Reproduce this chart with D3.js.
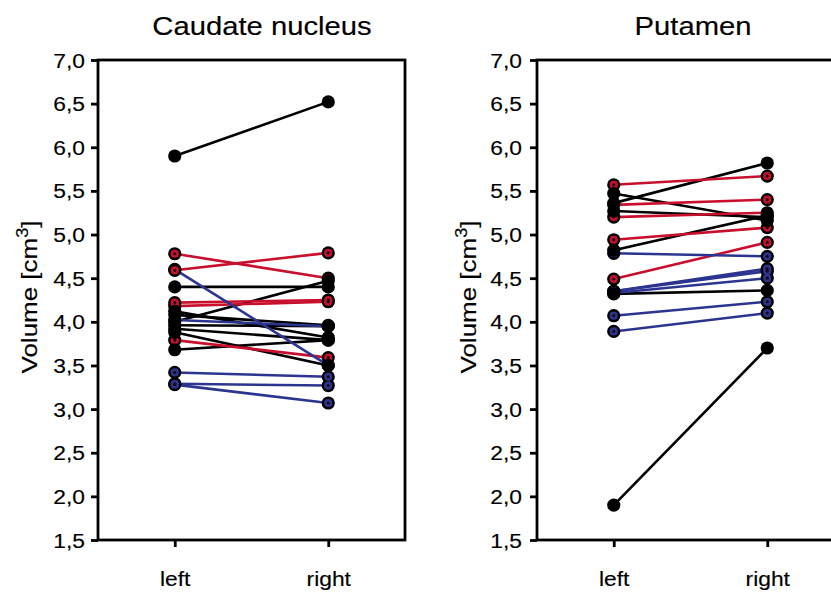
<!DOCTYPE html>
<html>
<head>
<meta charset="utf-8">
<script src="https://cdn.jsdelivr.net/npm/d3@7"></script>
<style>
  html, body { margin: 0; padding: 0; background: #fff; }
  svg { display: block; font-family: "Liberation Sans", Arial, Helvetica, sans-serif; }
  svg text { stroke: #000; stroke-width: 0.15px; fill: #000; }
</style>
</head>
<body>
<svg id="chart" width="831" height="592"></svg>
<script>
// ---------- data ----------
const sides = ["left", "right"];
const yTickValues = [1.5, 2.0, 2.5, 3.0, 3.5, 4.0, 4.5, 5.0, 5.5, 6.0, 6.5, 7.0];
const panelTitles = ["Caudate nucleus", "Putamen"];
const yLabel = "Volume [cm";
const yLabelSup = "3";

// pairs: [left, right] volumes (cm³)
const caudateBlack = [[5.90, 6.52], [4.40, 4.40], [4.00, 4.47], [4.08, 3.96], [3.96, 3.95], [3.92, 3.79], [3.88, 3.50], [4.12, 3.82], [3.68, 3.79]];
const caudateRed   = [[4.78, 4.50], [4.59, 4.79], [4.22, 4.25], [4.18, 4.23], [3.79, 3.59]];
const caudateBlue  = [[4.60, 3.50], [4.02, 3.95], [3.42, 3.37], [3.29, 3.27], [3.28, 3.07]];

const putamenBlack = [[5.47, 5.16], [5.36, 5.82], [5.27, 5.20], [4.82, 5.22], [4.32, 4.36], [1.90, 3.70]];
const putamenRed   = [[5.57, 5.67], [5.34, 5.40], [5.20, 5.25], [4.94, 5.08], [4.49, 4.91]];
const putamenBlue  = [[4.785, 4.75], [4.35, 4.61], [4.35, 4.58], [4.33, 4.50], [4.07, 4.23], [3.89, 4.10]];

const colors = { black: "#000000", red: "#c8102e", blue: "#2b3590" };

// ---------- layout ----------
const svg = d3.select("#chart");
const panelW = 307, plotTop = 60, plotBottom = 540;
const panelX = [98, 537];
const titleX = [262, 693];
const sx = 1.17; // horizontal text stretch of the reference

const y = d3.scaleLinear().domain([1.5, 7.0]).range([plotBottom, plotTop]);
const fmt = v => d3.format(".1f")(v).replace(".", ",");

const panels = [
  { black: caudateBlack, red: caudateRed, blue: caudateBlue },
  { black: putamenBlack, red: putamenRed, blue: putamenBlue }
];

panels.forEach((p, i) => {
  const x0 = panelX[i];
  const x = d3.scalePoint().domain(sides).range([x0, x0 + panelW]).padding(0.5);
  const g = svg.append("g");

  // title
  g.append("text")
    .attr("transform", `translate(${titleX[i]},35) scale(${sx},1)`)
    .attr("text-anchor", "middle").attr("font-size", 25)
    .text(panelTitles[i]);

  // y label
  const yl = g.append("text")
    .attr("font-size", 20).attr("text-anchor", "middle");
  yl.append("tspan").text(yLabel);
  yl.append("tspan").attr("font-size", 14).attr("dy", -8).text(yLabelSup);
  yl.append("tspan").attr("dy", 8).text("]");
  const natural = yl.node().getBBox().width || 120;
  const along = 153 / natural;
  yl.attr("transform", `translate(${x0 - 61},297) rotate(-90) scale(${along},1.12)`);

  // lines
  const series = [["black", p.black], ["red", p.red], ["blue", p.blue]];
  series.forEach(([c, data]) => {
    g.selectAll(null).data(data).enter().append("line")
      .attr("x1", x("left")).attr("x2", x("right"))
      .attr("y1", d => y(d[0])).attr("y2", d => y(d[1]))
      .attr("stroke", colors[c]).attr("stroke-width", 2.6);
  });

  // markers
  const drawMarkers = (c, data) => {
    const pts = [];
    data.forEach(d => { pts.push([x("left"), y(d[0])]); pts.push([x("right"), y(d[1])]); });
    g.selectAll(null).data(pts).enter().append("circle")
      .attr("cx", d => d[0]).attr("cy", d => d[1]).attr("r", 6.6).attr("fill", "#000");
    if (c !== "black") {
      g.selectAll(null).data(pts).enter().append("circle")
        .attr("cx", d => d[0]).attr("cy", d => d[1]).attr("r", 4.1).attr("fill", colors[c]);
      g.selectAll(null).data(pts).enter().append("circle")
        .attr("cx", d => d[0]).attr("cy", d => d[1]).attr("r", 1.6).attr("fill", "#1a0a10");
    }
  };
  drawMarkers("blue", p.blue);
  drawMarkers("red", p.red);
  drawMarkers("black", p.black);

  // frame
  g.append("rect").attr("x", x0).attr("y", plotTop)
    .attr("width", panelW).attr("height", plotBottom - plotTop)
    .attr("fill", "none").attr("stroke", "#000").attr("stroke-width", 2.8);

  // y axis
  const ya = g.append("g").attr("transform", `translate(${x0},0)`)
    .call(d3.axisLeft(y).tickValues(yTickValues).tickFormat(fmt).tickSize(7).tickSizeOuter(0));
  ya.attr("font-family", null).attr("font-size", null);
  ya.select(".domain").remove();
  ya.selectAll(".tick line").attr("stroke-width", 2.8);
  ya.selectAll(".tick text")
    .attr("font-size", 19.5)
    .attr("x", -(i === 0 ? 13 : 15) / sx).attr("dy", "0.36em")
    .attr("transform", `scale(${sx},1)`);

  // x axis
  const xa = g.append("g").attr("transform", `translate(0,${plotBottom})`)
    .call(d3.axisBottom(x).tickSize(7).tickSizeOuter(0));
  xa.attr("font-family", null).attr("font-size", null);
  xa.select(".domain").remove();
  xa.selectAll(".tick line").attr("stroke-width", 2.8);
  xa.selectAll(".tick text")
    .attr("font-size", 19.5)
    .attr("y", 46).attr("dy", 0)
    .attr("transform", `scale(${sx},1)`);
});
</script>
</body>
</html>
